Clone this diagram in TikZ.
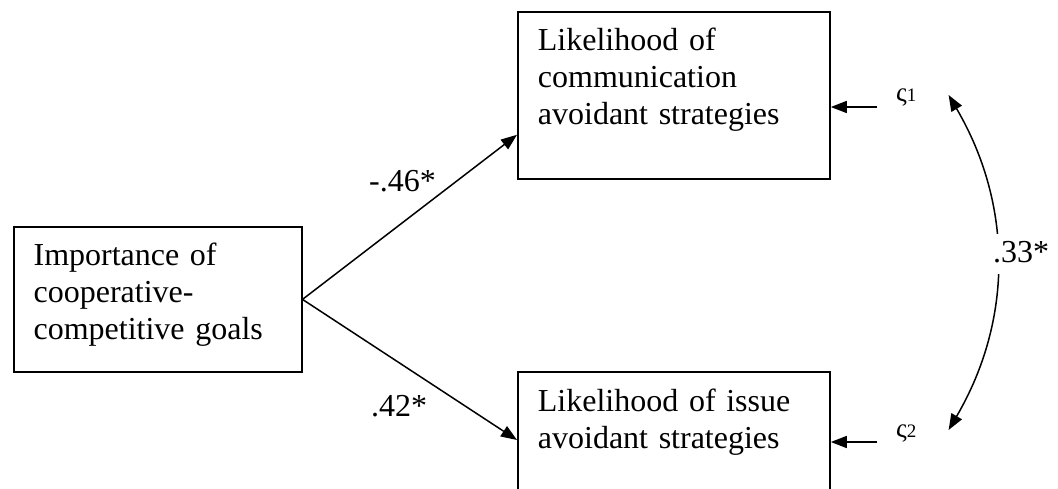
\documentclass[tikz,border=0pt]{standalone}
\usepackage{fontspec}
\setmainfont{Liberation Serif}
\usetikzlibrary{arrows.meta}
\newcommand{\zlab}[1]{{\fontsize{27}{28}\selectfont ς}{\fontsize{19}{20}\selectfont #1}}
\tikzset{
  box/.style={draw, line width=1.8pt, anchor=north west, align=left, inner ysep=0pt, inner xsep=20pt,
    font=\fontsize{32}{37}\selectfont},
  coef/.style={anchor=base west, inner sep=0pt, font=\fontsize{32}{37}\selectfont},
  err/.style={anchor=base west, inner sep=0pt},
  arr/.style={line width=1.5pt, -{Triangle[length=16pt,width=12pt]}},
  darr/.style={line width=1.5pt, {Triangle[length=16pt,width=12pt]}-{Triangle[length=16pt,width=12pt]}}
}
\begin{document}
\begin{tikzpicture}[x=1pt,y=-1pt]
\useasboundingbox (0,0) rectangle (1058,489);
\clip (0,0) rectangle (1058,489);
\node[box, text width=248pt, text height=39pt, text depth=106pt] (left) at (12.7,226)
  {Importance of\\cooperative-\\competitive goals};
\node[box, text width=272pt, text height=39pt, text depth=128pt] (top) at (517,11)
  {Likelihood of\\communication\\avoidant strategies};
\node[box, text width=272pt, text height=40pt, text depth=109pt] (bot) at (517,371)
  {Likelihood of issue\\avoidant strategies};
\draw[arr] (left.east) -- ([yshift=45pt]top.south west);
\draw[arr] (left.east) -- ([yshift=-69pt]bot.north west);
\node[coef] (c1) at (369,192) {-.46*};
\node[coef] (c2) at (371,416) {.42*};
\node[err] (z1) at (896,102) {\zlab{1}};
\node[err] (z2) at (896,437) {\zlab{2}};
\draw[arr] ([shift={(-19pt,-5pt)}]z1.base west) -- ([yshift=-5pt]z1.base west -| top.east);
\draw[arr] ([shift={(-19pt,-5pt)}]z2.base west) -- ([yshift=-5pt]z2.base west -| bot.east);
\coordinate (e1) at ([xshift=32pt,yshift=7pt]z1.base east);
\coordinate (e2) at ([xshift=32pt,yshift=7pt]z2.base east);
\draw[darr] (e1) .. controls (1013,205) and (1013,320) .. (e2);
\node[coef, fill=white, inner ysep=6pt, inner xsep=0pt, text height=23pt, text depth=5pt] (r) at (993,263) {.33*};
\end{tikzpicture}
\end{document}
